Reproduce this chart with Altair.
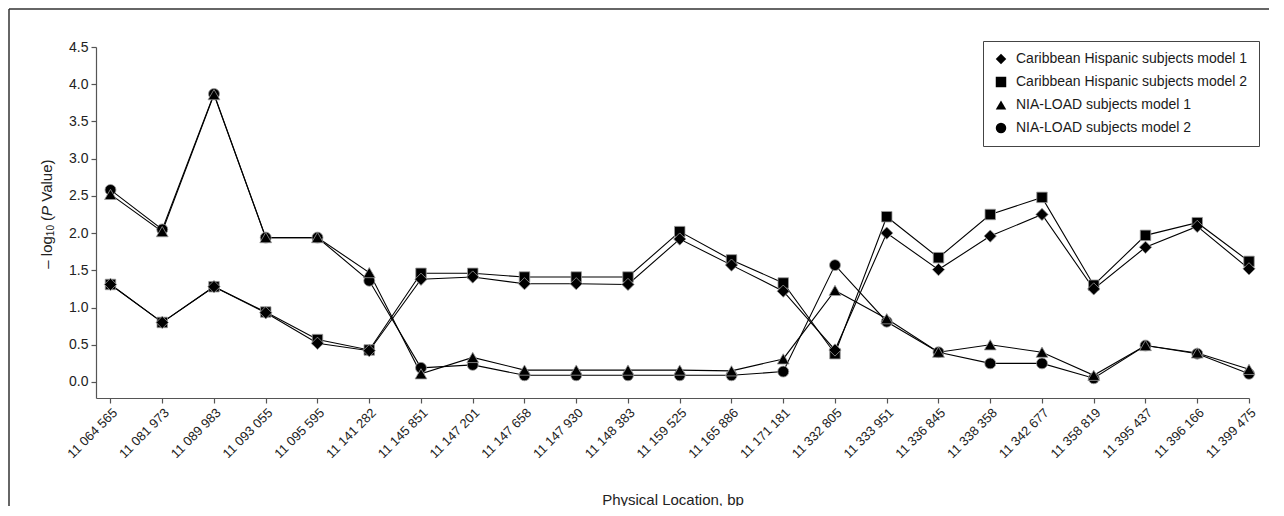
import altair as alt
import pandas as pd

FONT = "Liberation Sans, Arial, Helvetica, sans-serif"

positions = ["11 064 565", "11 081 973", "11 089 983", "11 093 055", "11 095 595",
             "11 141 282", "11 145 851", "11 147 201", "11 147 658", "11 147 930",
             "11 148 383", "11 159 525", "11 165 886", "11 171 181", "11 332 805",
             "11 333 951", "11 336 845", "11 338 358", "11 342 677", "11 358 819",
             "11 395 437", "11 396 166", "11 399 475"]

ch_model1 = [1.31, 0.80, 1.28, 0.93, 0.52, 0.42, 1.38, 1.41, 1.32, 1.32, 1.31, 1.92,
             1.57, 1.22, 0.43, 2.00, 1.51, 1.96, 2.25, 1.25, 1.81, 2.09, 1.52]
ch_model2 = [1.31, 0.80, 1.28, 0.94, 0.57, 0.43, 1.46, 1.46, 1.41, 1.41, 1.41, 2.02,
             1.64, 1.33, 0.38, 2.22, 1.67, 2.25, 2.48, 1.30, 1.97, 2.14, 1.62]
nia_model1 = [2.52, 2.02, 3.86, 1.94, 1.94, 1.47, 0.11, 0.33, 0.16, 0.16, 0.16, 0.16,
              0.15, 0.31, 1.23, 0.85, 0.40, 0.50, 0.40, 0.09, 0.49, 0.39, 0.17]
nia_model2 = [2.58, 2.05, 3.87, 1.94, 1.94, 1.36, 0.19, 0.23, 0.09, 0.09, 0.09, 0.09,
              0.09, 0.14, 1.57, 0.81, 0.40, 0.25, 0.25, 0.05, 0.49, 0.38, 0.11]

series_names = ["Caribbean Hispanic subjects model 1", "Caribbean Hispanic subjects model 2",
                "NIA-LOAD subjects model 1", "NIA-LOAD subjects model 2"]
series_values = [ch_model1, ch_model2, nia_model1, nia_model2]
shapes = ["diamond", "square", "triangle-up", "circle"]
sizes = [150, 110, 140, 120]
draw_order = [3, 1, 4, 2]

rows = []
for name, vals, sz, od in zip(series_names, series_values, sizes, draw_order):
    for i, v in enumerate(vals):
        rows.append({"idx": i, "pos": positions[i], "series": name, "value": v,
                     "size": sz, "ord": od})
df = pd.DataFrame(rows)

label_expr = "[" + ",".join("'" + p + "'" for p in positions) + "][datum.value]"

x_enc = alt.X("idx:Q",
              scale=alt.Scale(domain=[-0.28, len(positions) - 1], nice=False, zero=False),
              axis=alt.Axis(values=list(range(len(positions))), labelExpr=label_expr,
                            labelAngle=-45, labelAlign="right", labelBaseline="top",
                            labelPadding=3, labelFontSize=13, labelOverlap=False,
                            labelFlush=False, grid=False,
                            title="Physical Location, bp", titleFontSize=15,
                            titleFontWeight="normal", titleY=101, titleBaseline="middle"))
y_enc = alt.Y("value:Q",
              scale=alt.Scale(domain=[-0.215, 4.5], nice=False, zero=False),
              axis=alt.Axis(values=[0, 0.5, 1, 1.5, 2, 2.5, 3, 3.5, 4, 4.5], format=".1f",
                            title=None, labelFontSize=14, labelPadding=3, grid=False,
                            labelOverlap=False, labelFlush=False))

base = alt.Chart(df)

lines = base.mark_line(color="black", strokeWidth=1.1).encode(
    x=x_enc, y=y_enc, detail="series:N")

points = base.mark_point(filled=True, color="black", fill="black", stroke="#9a9a9a",
                         strokeWidth=0.8, opacity=1).encode(
    x=x_enc, y=y_enc,
    shape=alt.Shape("series:N",
                    scale=alt.Scale(domain=series_names, range=shapes),
                    legend=alt.Legend(title=None, orient="none", legendX=887, legendY=-6,
                                      symbolFillColor="black", symbolStrokeColor="black",
                                      symbolStrokeWidth=0, symbolSize=110,
                                      labelFont=FONT, labelFontSize=14, labelColor="#1a1a1a",
                                      labelOffset=8, padding=11, rowPadding=9,
                                      strokeColor="#444", fillColor="white", labelLimit=400)),
    size=alt.Size("size:Q", scale=None),
    order=alt.Order("ord:Q"))

one = alt.Data(values=[{}])

# y-axis title pieces: "– log10 (P Value)"
ty0 = 221.7
fs = 15
sp = 0.278 * fs
w_log = 2.168 * fs
w_sub = 1.112 * 10
w_par = 0.333 * fs
w_p = 0.667 * fs
y_sub = ty0 - w_log
y_par = y_sub - w_sub - sp
y_p = y_par - w_par
y_val = y_p - w_p - sp
pieces = [
    ("–", fs, "normal", -49, ty0),
    ("log", fs, "normal", -49, ty0 - 0.556 * fs - sp),
    ("10", 10, "normal", -45, y_sub),
    ("(", fs, "normal", -49, y_par),
    ("P", fs, "italic", -49, y_p),
    ("Value)", fs, "normal", -49, y_val),
]
title_layers = []
for txt, size, style, px, py in pieces:
    title_layers.append(
        alt.Chart(one).mark_text(text=txt, angle=270, align="left", baseline="middle",
                                 font=FONT, fontSize=size, fontStyle=style, color="#222")
        .encode(x=alt.value(px), y=alt.value(py)))

border_top = alt.Chart(one).mark_rule(color="#333", strokeWidth=1.5).encode(
    x=alt.value(-87), x2=alt.value(1300), y=alt.value(-38))
border_left = alt.Chart(one).mark_rule(color="#333", strokeWidth=1.5).encode(
    x=alt.value(-87), y=alt.value(-38), y2=alt.value(520))

chart = alt.layer(border_top, border_left, lines, points, *title_layers).properties(
    width=1153, height=351,
    background="white",
    autosize=alt.AutoSizeParams(type="none"),
    padding={"left": 88, "top": 39, "right": 20, "bottom": 108},
).configure_view(strokeWidth=0).configure_axis(
    grid=False, domainColor="#555", tickColor="#555", tickSize=5,
    labelColor="#222", labelFont=FONT, titleFont=FONT, titleColor="#222",
    domainWidth=1.2, tickWidth=1.2
)

chart.save("out.html", embed_options={"renderer": "svg", "actions": False})
